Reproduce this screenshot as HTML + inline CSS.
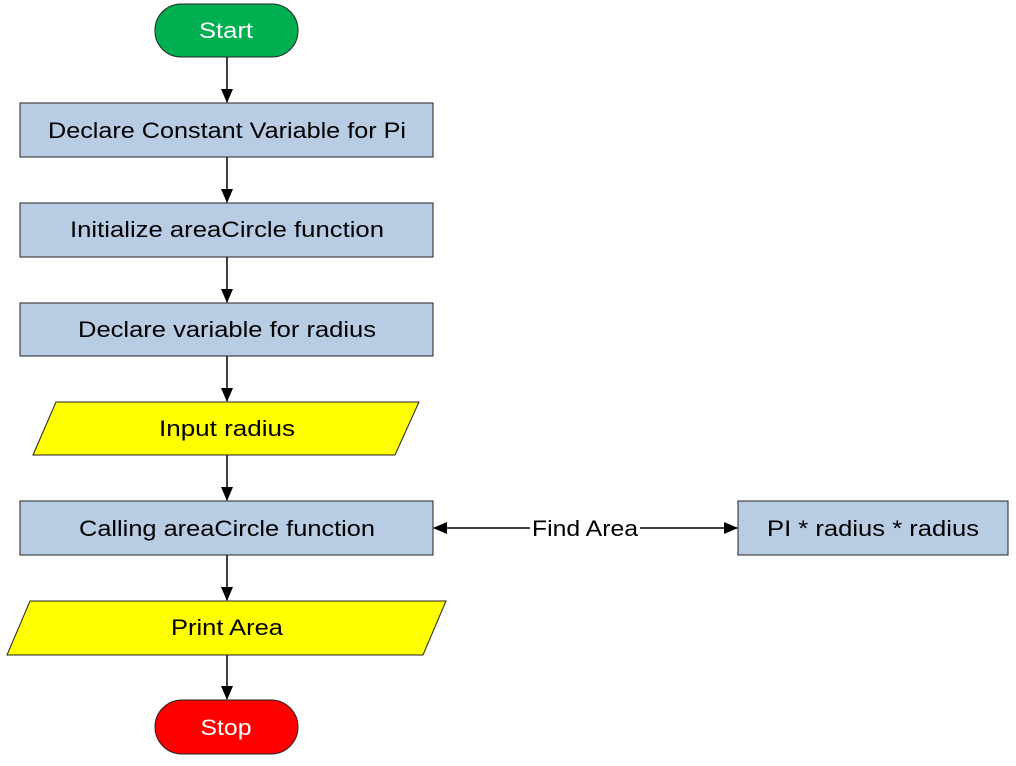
<!DOCTYPE html>
<html><head><style>body{margin:0;background:#fff}svg{display:block}</style></head><body>
<svg width="1016" height="766" viewBox="0 0 1016 766" xmlns="http://www.w3.org/2000/svg" font-family="Liberation Sans, sans-serif" font-size="22">
<defs><marker id="a" markerWidth="14" markerHeight="12" refX="13" refY="6" orient="auto" markerUnits="userSpaceOnUse"><path d="M0,0 L14,6 L0,12 z" fill="#000"/></marker></defs>
<g stroke="#000" stroke-width="1.5" fill="none">
<line x1="227" y1="57" x2="227" y2="102" marker-end="url(#a)"/>
<line x1="227" y1="157" x2="227" y2="202" marker-end="url(#a)"/>
<line x1="227" y1="257" x2="227" y2="302" marker-end="url(#a)"/>
<line x1="227" y1="356" x2="227" y2="401" marker-end="url(#a)"/>
<line x1="227" y1="455" x2="227" y2="500" marker-end="url(#a)"/>
<line x1="227" y1="555" x2="227" y2="600" marker-end="url(#a)"/>
<line x1="227" y1="655" x2="227" y2="699" marker-end="url(#a)"/>
<line x1="530" y1="528" x2="434" y2="528" marker-end="url(#a)"/>
<line x1="640" y1="528" x2="737" y2="528" marker-end="url(#a)"/>
</g>
<g stroke="#222" stroke-width="1">
<rect x="155" y="4" width="143" height="53" rx="26" fill="#00b050"/>
<rect x="20" y="103" width="413" height="54" fill="#b8cce4"/>
<rect x="20" y="203" width="413" height="54" fill="#b8cce4"/>
<rect x="20" y="303" width="413" height="53" fill="#b8cce4"/>
<polygon points="56,402 419,402 395,455 33,455" fill="#ffff00"/>
<rect x="20" y="501" width="413" height="54" fill="#b8cce4"/>
<polygon points="30,601 446,601 423,655 7,655" fill="#ffff00"/>
<rect x="155" y="700" width="143" height="54" rx="27" fill="#ff0000"/>
<rect x="738" y="501" width="270" height="54" fill="#b8cce4"/>
</g>
<g text-anchor="middle" fill="#000">
<text x="226" y="38" fill="#fff" textLength="54" lengthAdjust="spacingAndGlyphs">Start</text>
<text x="227" y="138" textLength="358" lengthAdjust="spacingAndGlyphs">Declare Constant Variable for Pi</text>
<text x="227" y="237" textLength="314" lengthAdjust="spacingAndGlyphs">Initialize areaCircle function</text>
<text x="227" y="337" textLength="298" lengthAdjust="spacingAndGlyphs">Declare variable for radius</text>
<text x="227" y="436" textLength="136" lengthAdjust="spacingAndGlyphs">Input radius</text>
<text x="227" y="536" textLength="296" lengthAdjust="spacingAndGlyphs">Calling areaCircle function</text>
<text x="227" y="635" textLength="112" lengthAdjust="spacingAndGlyphs">Print Area</text>
<text x="226" y="735" fill="#fff" textLength="51" lengthAdjust="spacingAndGlyphs">Stop</text>
<text x="585" y="536" textLength="106" lengthAdjust="spacingAndGlyphs">Find Area</text>
<text x="873" y="536" textLength="212" lengthAdjust="spacingAndGlyphs">PI * radius * radius</text>
</g>
</svg>
</body></html>
